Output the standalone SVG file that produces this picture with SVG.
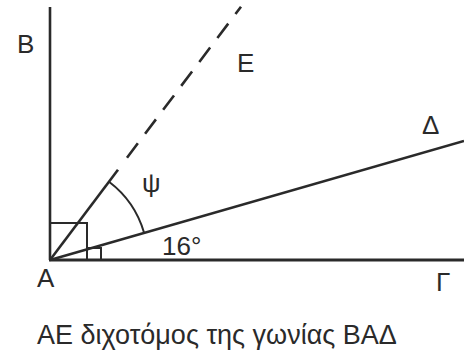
<svg xmlns="http://www.w3.org/2000/svg" width="464" height="358" viewBox="0 0 464 358">
<style>
.ln{stroke:#2a2a2a;stroke-width:2.6;fill:none;stroke-linecap:butt}
.thin{stroke:#2a2a2a;stroke-width:2;fill:none}
.lbl{font-family:"Liberation Sans",Arial,sans-serif;font-size:26px;fill:#2a2a2a}
</style>
<rect width="464" height="358" fill="#fff"/>
<g id="connectors">
<line class="ln" x1="50" y1="7" x2="50" y2="260"/>
<line class="ln" x1="49" y1="260" x2="464" y2="260" style="stroke-width:3"/>
<line class="ln" x1="50" y1="260" x2="464" y2="141"/>
<line class="ln" x1="50" y1="260" x2="118" y2="169.7"/>
<line class="ln" x1="127" y1="157.7" x2="241" y2="6.7" stroke-dasharray="18 12"/>
</g>
<g id="right-angle"><rect class="thin" x="50" y="223" width="37" height="37"/></g>
<g id="angle-16"><polyline class="thin" points="87,248 101,248 101,260"/></g>
<g id="arc-psi"><path class="thin" d="M109,181.7 A98,98 0 0 1 144,232.5"/></g>
<g id="A"><text class="lbl" x="37" y="287">A</text></g>
<g id="B"><text class="lbl" x="17" y="53">B</text></g>
<g id="E"><text class="lbl" x="237" y="72">E</text></g>
<g id="Delta"><text class="lbl" x="422" y="134">Δ</text></g>
<g id="Gamma"><text class="lbl" x="436" y="291">Γ</text></g>
<g id="psi"><text class="lbl" x="142" y="192">ψ</text></g>
<g id="deg16"><text class="lbl" x="162" y="255">16°</text></g>
<g id="caption"><text class="lbl" x="37" y="344" style="font-size:27px">ΑΕ διχοτόμος της γωνίας ΒΑΔ</text></g>
</svg>
